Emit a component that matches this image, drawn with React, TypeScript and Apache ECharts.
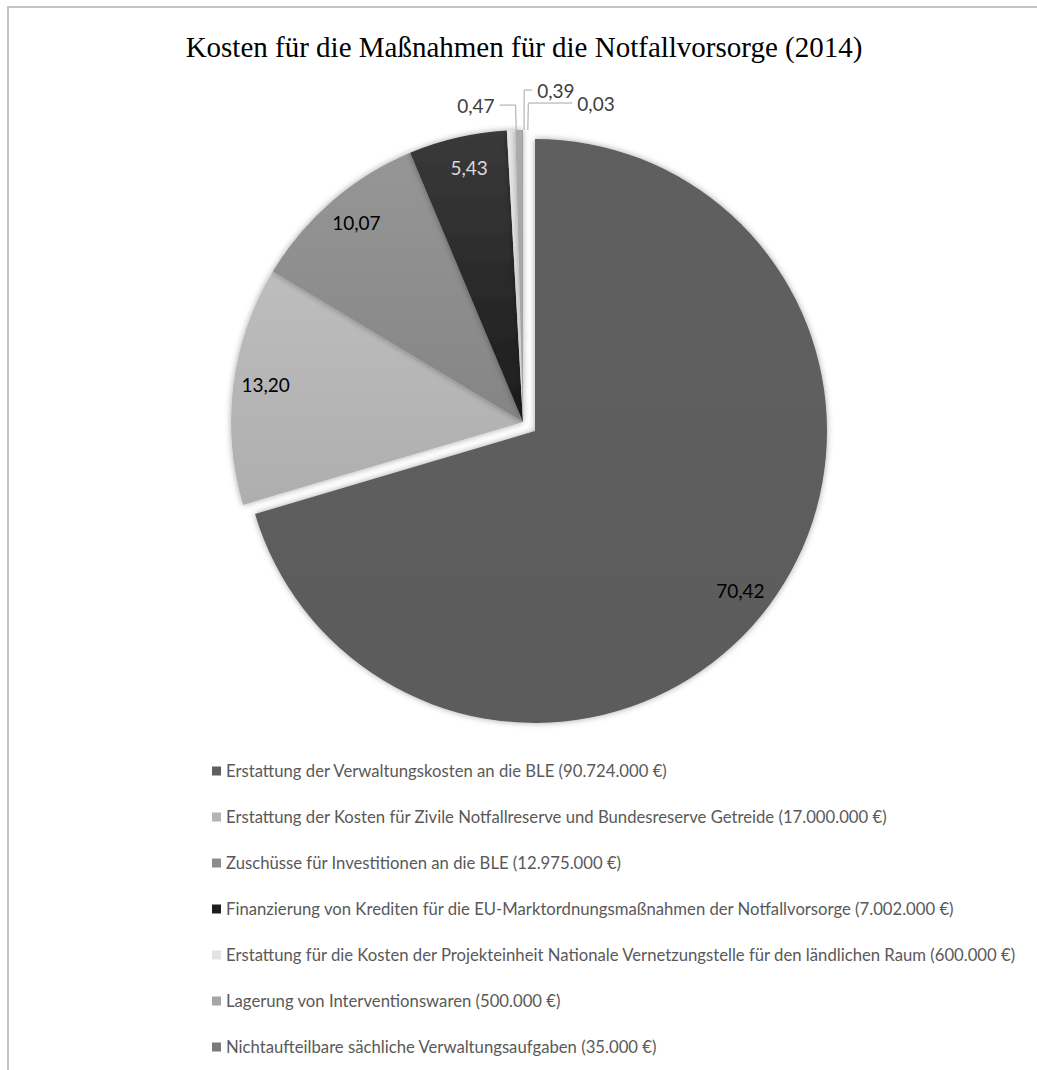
import React, { useEffect, useRef } from "react";
import * as echarts from "echarts";

const titleText = "Kosten für die Maßnahmen für die Notfallvorsorge (2014)";
const categories = [
  "Erstattung der Verwaltungskosten an die BLE",
  "Erstattung der Kosten für Zivile Notfallreserve und Bundesreserve Getreide",
  "Zuschüsse für Investitionen an die BLE",
  "Finanzierung von Krediten für die EU-Marktordnungsmaßnahmen der Notfallvorsorge",
  "Erstattung für die Kosten der Projekteinheit Nationale Vernetzungstelle für den ländlichen Raum",
  "Lagerung von Interventionswaren",
  "Nichtaufteilbare sächliche Verwaltungsaufgaben",
];
const amounts = [90724000, 17000000, 12975000, 7002000, 600000, 500000, 35000];
const colorsTop = ["#5f5f5f", "#bdbdbd", "#969696", "#3a3a3a", "#e6e6e6", "#ababab", "#808080"];
const colorsBottom = ["#5c5c5c", "#aeaeae", "#858585", "#1c1c1c", "#dedede", "#a3a3a3", "#777777"];
const legendColors = ["#5f5f5f", "#b4b4b4", "#8c8c8c", "#1e1e1e", "#e3e3e3", "#a6a6a6", "#7a7a7a"];
const labelColors = ["#000000", "#000000", "#000000", "#d9d9d9", "#404040", "#404040", "#404040"];
const outsideLines = [null, null, null, null, [25, 16], [40, 8], [27, 44]];

const fmtEuro = (v: number) => String(v).replace(/\B(?=(\d{3})+(?!\d))/g, ".");

export default function App() {
  const ref = useRef<HTMLDivElement>(null);
  useEffect(() => {
    if (!ref.current) return;
    const chart = echarts.init(ref.current, null, { renderer: "svg" });
    const total = amounts.reduce((a, b) => a + b, 0);
    const names = categories.map((c, i) => `${c} (${fmtEuro(amounts[i])} €)`);
    const center = [523, 422];
    const R = 292;

    const mainData = names.map((n, i) => ({
      name: n,
      value: amounts[i],
      selected: i === 0,
      itemStyle: {
        color: new echarts.graphic.LinearGradient(0, 0, 0, 1, [
          { offset: 0, color: colorsTop[i] },
          { offset: 1, color: colorsBottom[i] },
        ]),
      },
    }));

    const labelData = names.map((n, i) => {
      const ol = outsideLines[i];
      return {
        name: n,
        value: amounts[i],
        selected: i === 0,
        label: ol
          ? { position: "outside", color: labelColors[i] }
          : { position: "inside", color: labelColors[i] },
        labelLine: ol
          ? { show: true, length: ol[0], length2: ol[1], lineStyle: { color: "#a6a6a6", width: 1 } }
          : { show: false },
      };
    });

    chart.setOption({
      animation: false,
      backgroundColor: "#ffffff",
      title: {
        text: titleText,
        left: 519,
        textAlign: "center",
        top: 27,
        textStyle: {
          fontFamily: "Liberation Serif",
          fontSize: 29,
          fontWeight: "normal",
          color: "#000000",
        },
      },
      legend: {
        orient: "vertical",
        left: 212,
        top: 761,
        padding: 0,
        icon: "rect",
        itemWidth: 9,
        itemHeight: 9,
        itemGap: 26,
        itemTextGap: 5,
        selectedMode: false,
        data: names.map((n, i) => ({ name: n, itemStyle: { color: legendColors[i] } })),
        textStyle: {
          fontFamily: "Lato",
          fontSize: 16.7,
          lineHeight: 20,
          color: "#595959",
        },
      },
      series: [
        {
          type: "pie",
          center,
          radius: [0, R],
          startAngle: 90,
          clockwise: true,
          selectedMode: "single",
          selectedOffset: 15,
          silent: true,
          label: { show: false },
          labelLine: { show: false },
          itemStyle: {
            shadowBlur: 6,
            shadowColor: "rgba(0,0,0,0.35)",
          },
          data: mainData,
        },
        {
          type: "pie",
          center,
          radius: [R - 70, R],
          startAngle: 89,
          clockwise: true,
          selectedMode: "single",
          selectedOffset: 15,
          silent: true,
          avoidLabelOverlap: false,
          itemStyle: { color: "rgba(0,0,0,0)" },
          label: {
            show: true,
            fontFamily: "Lato",
            fontSize: 19,
            formatter: (p: any) => ((p.value / total) * 100).toFixed(2).replace(".", ","),
          },
          data: labelData,
          z: 3,
        },
      ],
    });
    return () => chart.dispose();
  }, []);

  return (
    <div style={{ position: "fixed", left: 0, top: 0, width: 1037, height: 1070, background: "#fff" }}>
      <div ref={ref} style={{ position: "absolute", left: 0, top: 0, width: 1037, height: 1070 }} />
      <div
        style={{
          position: "absolute",
          left: 7,
          top: 6,
          width: 1100,
          height: 1100,
          borderTop: "2px solid #c4c4c4",
          borderLeft: "2px solid #c4c4c4",
          pointerEvents: "none",
        }}
      />
    </div>
  );
}
